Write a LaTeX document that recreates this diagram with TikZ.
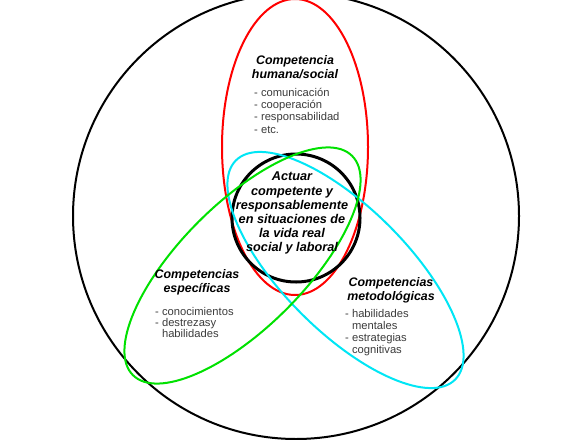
\documentclass[tikz,border=0pt]{standalone}
\usepackage{fontspec}
\setmainfont{Liberation Sans}
\definecolor{redc}{RGB}{255,0,0}
\definecolor{greenc}{RGB}{0,225,0}
\definecolor{cyanc}{RGB}{0,230,245}
\definecolor{listgray}{RGB}{60,60,60}
\begin{document}
\begin{tikzpicture}[x=1pt,y=1pt,
  ring/.style={line width=2pt},
  head/.style={font=\fontsize{12.4}{14}\selectfont\bfseries\itshape, align=center, inner sep=0pt, anchor=north},
  items/.style={font=\fontsize{11.2}{12.2}\selectfont, text=listgray, align=left, inner sep=0pt, anchor=north west},
  core/.style={font=\fontsize{12.7}{14.2}\selectfont\bfseries\itshape, align=center, inner sep=0pt, anchor=north}]
\useasboundingbox (0,0) rectangle (585,-439);
\fill[white] (0,0) rectangle (585,-439);
\clip (0,0) rectangle (585,-439);
\coordinate (o) at (296,-216);
\coordinate (r) at (295,-147);
\coordinate (k) at (296,-218);
\coordinate (g) at (242.5,-265.5);
\coordinate (c) at (345.5,-270);
\draw[ring] (o) circle[radius=223];
\draw[ring, redc] (r) ellipse[x radius=73, y radius=148];
\draw[line width=3pt] (k) circle[radius=64];
\draw[ring, cyanc, rotate around={-45:(c)}] (c) ellipse[x radius=155, y radius=62];
\draw[ring, greenc, rotate around={45:(g)}] (g) ellipse[x radius=155, y radius=62];
% top
\node[head] (th) at (295,-55.5) {Competencia\\humana/social};
\node[items] (tl) at (254,-88) {- comunicación\\- cooperación\\- responsabilidad\\- etc.};
% center
\node[core] (ct) at (292,-172) {Actuar\\competente y\\responsablemente\\en situaciones de\\la vida real\\social y laboral};
% left
\node[head] (lh) at (197,-269.5) {Competencias\\específicas};
\node[items, font=\fontsize{11.2}{11}\selectfont] (ll) at (155,-307) {- conocimientos\\- destrezasy\\\phantom{- }habilidades};
% right
\node[head] (rh) at (391,-277.5) {Competencias\\metodológicas};
\node[items] (rl) at (345,-309) {- habilidades\\\phantom{- }mentales\\- estrategias\\\phantom{- }cognitivas};
\end{tikzpicture}
\end{document}
